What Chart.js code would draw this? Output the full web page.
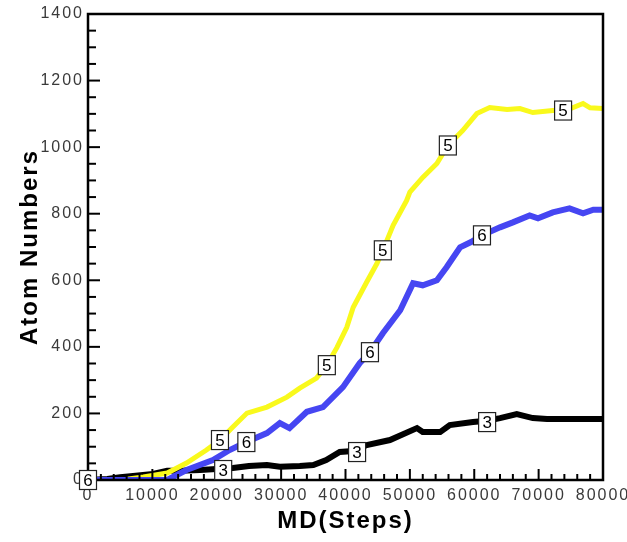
<!DOCTYPE html>
<html>
<head>
<meta charset="utf-8">
<script src="https://cdn.jsdelivr.net/npm/chart.js@4/dist/chart.umd.min.js"></script>
<style>
  html, body { margin: 0; padding: 0; background: #fff; }
  #wrap { width: 627px; height: 542px; }
</style>
</head>
<body>
<div id="wrap"><canvas id="chart"></canvas></div>
<script>
// series: MD steps vs atom numbers
const stepsFive = [0, 6000, 8600, 12300, 15300, 18400, 20500, 22500, 24700, 27800, 30900, 32900, 35500, 37100, 38700, 40200, 41200, 43300, 44900, 45800, 47400, 49500, 50000, 52000, 54200, 55900, 58200, 60400, 62400, 65100, 67100, 69100, 72200, 74500, 76900, 78000, 80000];
const atomsFive = [0, 2, 9, 21, 51, 90, 120, 159, 201, 219, 249, 276, 306, 345, 399, 459, 519, 595, 651, 690, 765, 840, 865, 909, 951, 1005, 1050, 1101, 1119, 1113, 1116, 1104, 1110, 1112, 1131, 1118, 1116];

const stepsSix = [0, 12300, 15300, 19400, 22000, 24600, 27800, 29800, 31300, 34000, 36500, 39600, 42200, 43800, 45800, 48500, 50500, 52000, 54200, 55700, 57800, 59500, 61200, 64000, 66000, 68600, 69900, 72200, 74800, 76900, 78500, 80000];
const atomsSix = [0, 0, 30, 60, 90, 114, 141, 171, 156, 205, 219, 279, 351, 384, 441, 510, 591, 585, 600, 639, 699, 715, 735, 759, 774, 795, 786, 804, 816, 801, 812, 812];

const stepsThree = [0, 3000, 5000, 7000, 10100, 12300, 14300, 17400, 22500, 25000, 27800, 29800, 32900, 35000, 37000, 39100, 41200, 43300, 46900, 51100, 52000, 54700, 56200, 59800, 62000, 64000, 66600, 69100, 71300, 80000];
const atomsThree = [0, 3, 8, 12, 18, 28, 28, 30, 36, 42, 45, 40, 42, 45, 60, 84, 87, 105, 120, 156, 144, 144, 165, 174, 178, 186, 198, 186, 183, 183];

// boxed series markers along each curve
const markFive = [[20500, 120], [37100, 345], [45800, 690], [55900, 1005], [73800, 1110]];
const markSix = [[0, 0], [24600, 114], [43800, 384], [61200, 735]];
const markThree = [[21000, 30], [41800, 84], [62000, 174]];

const xTicks = [0, 10000, 20000, 30000, 40000, 50000, 60000, 70000, 80000];
const yTicks = [0, 200, 400, 600, 800, 1000, 1200, 1400];

function toPoints(xs, ys) {
    return xs.map((x, i) => ({ x: x, y: ys[i] }));
}

const fontFamily = '"Liberation Sans", Arial, sans-serif';

const frameAndMarks = {
    id: 'frameAndMarks',
    beforeDraw(chart) {
        // the original lettering is a bit spaced out
        chart.ctx.letterSpacing = '2px';
    },
    afterDatasetsDraw(chart) {
        const ctx = chart.ctx;
        const xs = chart.scales.x, ys = chart.scales.y;
        const a = chart.chartArea;
        ctx.save();
        // frame
        ctx.strokeStyle = '#000';
        ctx.lineWidth = 2.5;
        ctx.strokeRect(a.left, a.top, a.right - a.left, a.bottom - a.top);
        // inward ticks
        ctx.lineWidth = 2;
        for (let v = 0; v <= 80000; v += 2000) {
            const px = xs.getPixelForValue(v);
            const len = v % 10000 === 0 ? 11 : 6;
            ctx.beginPath();
            ctx.moveTo(px, a.bottom);
            ctx.lineTo(px, a.bottom - len);
            ctx.stroke();
        }
        for (let v = 0; v <= 1400; v += 50) {
            const py = ys.getPixelForValue(v);
            const len = v % 200 === 0 ? 12 : 8;
            ctx.beginPath();
            ctx.moveTo(a.left, py);
            ctx.lineTo(a.left + len, py);
            ctx.stroke();
        }
        // boxed labels
        ctx.letterSpacing = '0px';
        ctx.font = '17px ' + fontFamily;
        ctx.textAlign = 'center';
        ctx.textBaseline = 'middle';
        const drawBox = (list, txt) => {
            list.forEach(p => {
                const px = xs.getPixelForValue(p[0]);
                const py = ys.getPixelForValue(p[1]);
                ctx.fillStyle = '#fff';
                ctx.fillRect(px - 8.5, py - 9.5, 17, 19);
                ctx.lineWidth = 1.2;
                ctx.strokeStyle = '#222';
                ctx.strokeRect(px - 8.5, py - 9.5, 17, 19);
                ctx.fillStyle = '#000';
                ctx.fillText(txt, px, py + 1);
            });
        };
        drawBox(markThree, '3');
        drawBox(markSix, '6');
        drawBox(markFive, '5');
        ctx.restore();
    }
};

const chart = new Chart(document.getElementById('chart').getContext('2d'), {
    type: 'line',
    data: {
        datasets: [
            {
                label: '6',
                data: toPoints(stepsSix, atomsSix),
                borderColor: '#4646f2',
                borderWidth: 6,
                pointRadius: 0,
                tension: 0
            },
            {
                label: '5',
                data: toPoints(stepsFive, atomsFive),
                borderColor: '#f9f91c',
                borderWidth: 5,
                pointRadius: 0,
                tension: 0
            },
            {
                label: '3',
                data: toPoints(stepsThree, atomsThree),
                borderColor: '#000000',
                borderWidth: 6,
                pointRadius: 0,
                tension: 0
            }
        ]
    },
    options: {
        responsive: true,
        maintainAspectRatio: false,
        animation: false,
        events: [],
        layout: { padding: { top: 14, right: 24, left: 0, bottom: 0 } },
        plugins: {
            legend: { display: false },
            tooltip: { enabled: false }
        },
        scales: {
            x: {
                type: 'linear',
                min: 0,
                max: 80000,
                afterFit: s => {
                    s.height = 62;
                    s.paddingLeft = 0;
                    s.paddingRight = 0;
                },
                afterBuildTicks: s => { s.ticks = xTicks.map(v => ({ value: v })); },
                grid: { display: false, drawTicks: false },
                border: { display: false },
                ticks: {
                    padding: 6,
                    maxRotation: 0,
                    color: '#3a3a3a',
                    font: { family: fontFamily, size: 16 },
                    callback: v => String(v)
                },
                title: {
                    display: true,
                    text: 'MD(Steps)',
                    color: '#000',
                    padding: { top: 0, bottom: 6 },
                    font: { family: fontFamily, size: 24, weight: 'bold' }
                }
            },
            y: {
                type: 'linear',
                min: 0,
                max: 1400,
                afterFit: s => {
                    s.width = 88;
                    s.paddingTop = 0;
                    s.paddingBottom = 0;
                },
                afterBuildTicks: s => { s.ticks = yTicks.map(v => ({ value: v })); },
                grid: { display: false, drawTicks: false },
                border: { display: false },
                ticks: {
                    padding: 4,
                    color: '#3a3a3a',
                    font: { family: fontFamily, size: 16 },
                    callback: v => String(v)
                },
                title: {
                    display: true,
                    text: 'Atom Numbers',
                    color: '#000',
                    padding: { top: 16, bottom: 0 },
                    font: { family: fontFamily, size: 24, weight: 'bold' }
                }
            }
        }
    },
    plugins: [frameAndMarks]
});
</script>
</body>
</html>
